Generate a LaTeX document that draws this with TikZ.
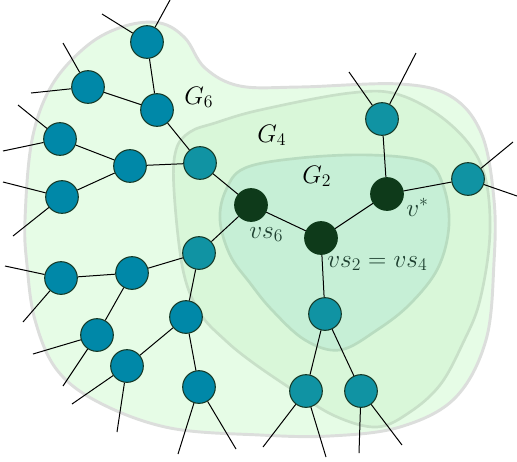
\RequirePackage{fix-cm}
\documentclass[tikz,border=0pt]{standalone}
\begin{document}
\begin{tikzpicture}[x=0.75pt,y=-0.75pt,
  outer/.style={circle,draw=borderc,line width=0.8pt,fill=tealA,minimum size=24.5pt,inner sep=0pt},
  inner/.style={circle,draw=borderc,line width=0.8pt,fill=tealB,minimum size=24.5pt,inner sep=0pt},
  dark/.style={circle,draw=darkc,line width=0.8pt,fill=darkc,minimum size=24.5pt,inner sep=0pt},
  edge/.style={line width=0.75pt,draw=black},
  glabel/.style={inner sep=0pt,anchor=base west,font=\fontsize{19}{22}\selectfont},
  vlabel/.style={inner sep=0pt,anchor=base west,text=labc,font=\fontsize{19}{22}\selectfont}]
\definecolor{tealA}{HTML}{0088A8}
\definecolor{tealB}{HTML}{1093A3}
\definecolor{darkc}{HTML}{0E3A1A}
\definecolor{borderc}{HTML}{163A28}
\definecolor{labc}{HTML}{1E4030}
\definecolor{g6fill}{HTML}{E6FCE6}
\definecolor{g6line}{HTML}{DCDEDC}
\definecolor{g4fill}{HTML}{D9F7D9}
\definecolor{g4line}{HTML}{C8E0C8}
\definecolor{g2fill}{HTML}{C6EFD6}
\definecolor{g2line}{HTML}{B8DCC0}
\useasboundingbox (0,0) rectangle (517,461);
% regions
\draw[line width=2.2pt,draw=g6line,fill=g6fill] plot[smooth cycle,tension=0.6] coordinates {
 (25,220) (32,140) (52,85) (88,45) (125,26) (160,23) (185,38) (205,68) (240,86) (300,87) (400,84) (452,97) (482,135) (494,200) (494,262) (486,340) (455,398) (400,427) (330,436) (260,435) (170,428) (100,403) (57,370) (35,320) (27,265)};
\draw[line width=2pt,draw=g4line,fill=g4fill] plot[smooth cycle,tension=0.6] coordinates {
 (174,190) (176,150) (190,132) (215,123) (260,110) (350,93) (400,95) (450,124) (482,167) (490,230) (480,300) (462,345) (440,385) (410,412) (377,427) (335,416) (293,390) (252,362) (225,340) (200,313) (183,270)};
\draw[line width=2pt,draw=g2line,fill=g2fill] plot[smooth cycle,tension=0.6] coordinates {
 (220,220) (226,190) (245,168) (300,158) (370,155) (425,162) (443,185) (449,225) (438,268) (410,304) (377,330) (340,350) (305,340) (272,310) (250,283) (230,255)};
% labels
\node[glabel] (l6) at (184,104) {$G_6$};
\node[glabel] (l4) at (257,142) {$G_4$};
\node[glabel] (l2) at (302,183) {$G_2$};
% nodes
\node[outer] (A) at (147,42) {};
\node[outer] (B) at (88,87) {};
\node[outer] (C) at (157,110) {};
\node[outer] (D) at (60,139) {};
\node[outer] (E) at (130,166) {};
\node[outer] (F) at (62,197) {};
\node[inner] (H) at (200,163) {};
\node[dark] (vs6) at (251,205) {};
\node[dark] (vs2) at (321,238) {};
\node[dark] (vst) at (387,194) {};
\node[inner] (I) at (382,119) {};
\node[inner] (J) at (468,179) {};
\node[inner] (K) at (199,253) {};
\node[outer] (L) at (61,278) {};
\node[outer] (M) at (132,273) {};
\node[outer] (N) at (186,317) {};
\node[outer] (O) at (97,335) {};
\node[outer] (P) at (127,366) {};
\node[outer] (Q) at (199,387) {};
\node[inner] (R) at (325,314) {};
\node[inner] (S) at (306,391) {};
\node[inner] (T) at (361,391) {};
\node[vlabel] (lvst) at (406,216) {$v^*$};
\node[vlabel] (lvs6) at (249,238) {$vs_6$};
\node[vlabel] (lvs2) at (327,267) {$vs_2 = vs_4$};
% free ends
\coordinate (a1) at (102,14); \coordinate (a2) at (170,0);
\coordinate (b1) at (63,43); \coordinate (b2) at (31,93);
\coordinate (d1) at (18,105); \coordinate (d2) at (3,151);
\coordinate (f1) at (3,182); \coordinate (f2) at (13,236);
\coordinate (i1) at (349,72); \coordinate (i2) at (416,53);
\coordinate (j1) at (513,142); \coordinate (j2) at (517,196);
\coordinate (l1) at (5,266); \coordinate (l2) at (23,322);
\coordinate (o1) at (33,354); \coordinate (o2) at (63,386);
\coordinate (p1) at (72,404); \coordinate (p2) at (117,432);
\coordinate (q1) at (178,454); \coordinate (q2) at (236,449);
\coordinate (s1) at (263,447); \coordinate (s2) at (326,457);
\coordinate (t1) at (359,453); \coordinate (t2) at (402,445);
% edges
\foreach \u/\v in {A/C,B/C,C/H,D/E,F/E,E/H,H/vs6,vs6/vs2,vs6/K,vs2/vst,vst/I,vst/J,vs2/R,K/M,K/N,M/L,M/O,N/P,N/Q,R/S,R/T,
  A/a1,A/a2,B/b1,B/b2,D/d1,D/d2,F/f1,F/f2,I/i1,I/i2,J/j1,J/j2,L/l1,L/l2,O/o1,O/o2,P/p1,P/p2,Q/q1,Q/q2,S/s1,S/s2,T/t1,T/t2}
  \draw[edge] (\u) -- (\v);
\end{tikzpicture}
\end{document}
